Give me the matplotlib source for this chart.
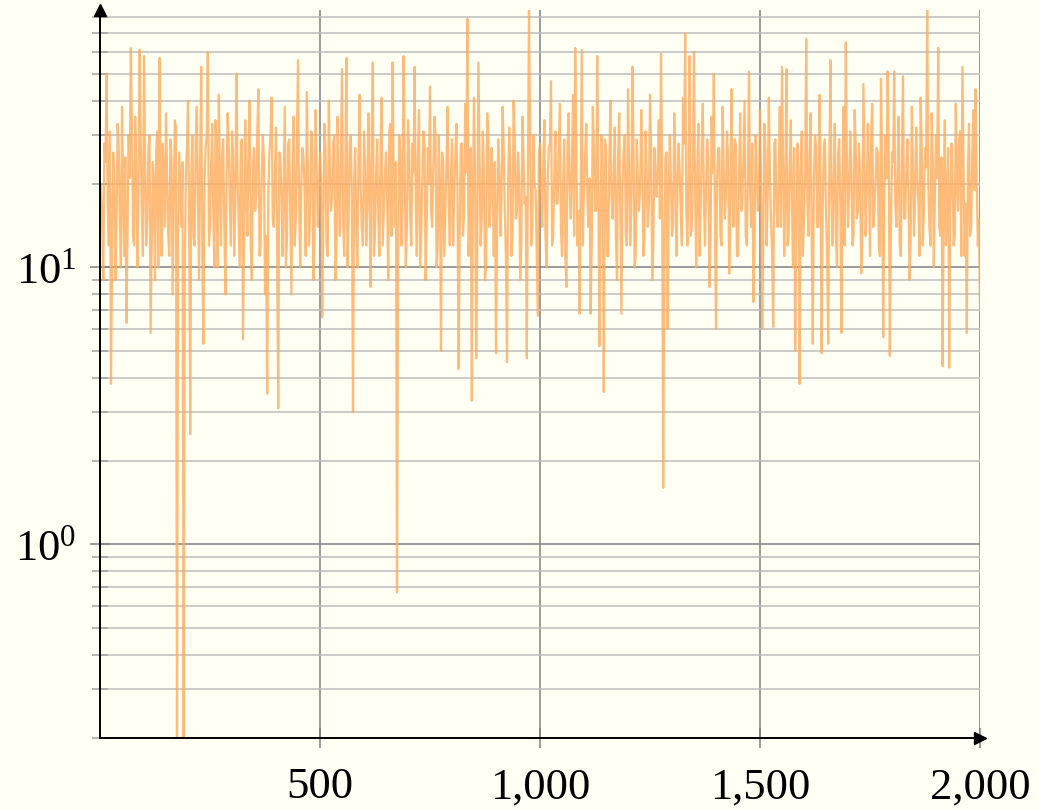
import numpy as np
import matplotlib.pyplot as plt
from matplotlib.ticker import FixedLocator, LogLocator, NullFormatter, FuncFormatter

# values, one every 5 steps (x = 5 .. 2000)
values = [
    14, 28, 50, 12, 3.8, 26, 9, 33, 15, 38, 11, 6.3, 30, 62, 13, 35, 10, 61, 16, 58,
    12, 27, 5.8, 24, 9, 31, 57, 11, 22, 36, 13, 29, 8, 34, 0.2, 26, 14, 0.2, 21, 40,
    2.5, 30, 12, 38, 9, 53, 5.3, 27, 60, 14, 33, 10, 25, 42, 12, 29, 8, 36, 17, 31,
    11, 50, 15, 28, 5.5, 34, 13, 40, 9, 27, 18, 44, 12, 30, 8, 3.5, 26, 41, 14, 32,
    3.1, 25, 11, 38, 13, 29, 8, 35, 15, 56, 10, 27, 19, 43, 12, 31, 9, 37, 14, 26,
    6.6, 33, 12, 40, 16, 28, 9, 35, 13, 52, 11, 57, 15, 30, 3.0, 27, 10, 42, 14, 31,
    12, 36, 8.5, 55, 13, 29, 11, 41, 16, 26, 9, 33, 55, 14, 0.67, 30, 12, 58, 10, 34,
    15, 28, 53, 11, 37, 13, 31, 9, 27, 45, 14, 35, 10, 30, 5.0, 24, 16, 38, 12, 29,
    18, 33, 4.3, 28, 13, 39, 79, 15, 3.3, 41, 4.7, 55, 12, 31, 9, 36, 14, 27, 11, 4.9,
    29, 13, 38, 16, 4.55, 32, 11, 40, 15, 26, 9, 35, 17, 4.7, 85, 12, 30, 19, 6.7, 28,
    14, 34, 10, 27, 47, 13, 31, 17, 39, 11, 29, 8.5, 36, 15, 42, 62, 12, 6.8, 61, 20,
    33, 14, 6.8, 38, 16, 58, 5.2, 30, 3.55, 27, 11, 40, 15, 32, 9, 36, 6.8, 26, 13, 44,
    12, 53, 10, 29, 16, 37, 11, 31, 14, 42, 9, 27, 18, 34, 59, 1.6, 25, 6.0, 30, 13,
    36, 11, 28, 15, 41, 70, 12, 58, 14, 60, 10, 33, 16, 39, 12, 29, 8.5, 35, 50, 6.0,
    27, 13, 38, 15, 31, 9.5, 44, 14, 28, 11, 36, 17, 40, 12, 51, 14, 7.5, 30, 16, 37,
    6.0, 33, 12, 41, 15, 6.1, 29, 14, 38, 53, 11, 52, 13, 34, 10, 5.0, 28, 3.8, 31, 15,
    67, 13, 36, 5.3, 30, 14, 42, 4.9, 27, 16, 5.3, 56, 12, 33, 10, 29, 5.8, 38, 65, 14,
    31, 12, 37, 15, 28, 9.5, 46, 13, 33, 11, 39, 16, 27, 12, 48, 5.6, 30, 51, 4.8, 26,
    51, 14, 35, 11, 49, 15, 29, 9, 38, 13, 32, 17, 41, 12, 27, 85, 14, 36, 10, 30,
    62, 13, 4.4, 34, 15, 4.35, 28, 12, 39, 16, 31, 53, 11, 5.8, 33, 14, 37, 44, 12, 7,
]
# in-between values (x = 2.5 .. 1997.5), the dense middle of the band
values_mid = [
    20, 9, 24, 17, 31, 11, 22, 14, 27, 10, 19, 25, 13, 21, 33, 12, 24, 18, 29, 11,
    23, 15, 30, 12, 20, 26, 10, 18, 28, 14, 22, 11, 25, 17, 32, 13, 19, 24, 9, 27,
    16, 21, 13, 28, 18, 24, 11, 20, 30, 12, 23, 15, 34, 10, 21, 26, 14, 19, 28, 12,
    25, 17, 22, 10, 29, 14, 20, 27, 12, 23, 16, 31, 11, 21, 25, 13, 18, 30, 15, 22,
    12, 26, 18, 21, 10, 28, 15, 23, 12, 30, 17, 20, 25, 11, 22, 16, 29, 13, 24, 18,
    21, 14, 27, 11, 23, 18, 30, 12, 20, 26, 15, 22, 10, 28, 17, 21, 13, 25, 19, 12,
    24, 16, 20, 29, 11, 22, 15, 27, 12, 21, 18, 31, 13, 20, 24, 10, 26, 17, 22, 14,
    27, 12, 22, 18, 25, 10, 21, 28, 14, 20, 16, 23, 30, 12, 19, 26, 11, 24, 17, 21,
    12, 25, 19, 13, 28, 16, 22, 11, 27, 18, 21, 13, 26, 15, 23, 10, 29, 17, 20, 24,
    14, 22, 18, 27, 11, 20, 24, 13, 29, 16, 21, 12, 25, 18, 22, 30, 14, 20, 11, 26,
    19, 24, 13, 21, 28, 12, 22, 17, 26, 14, 20, 11, 27, 19, 23, 13, 29, 16, 21, 12,
    25, 18, 21, 12, 27, 16, 22, 14, 20, 29, 11, 24, 18, 21, 13, 26, 15, 20, 30, 12,
    23, 16, 28, 11, 21, 19, 25, 13, 22, 17, 27, 12, 20, 24, 15, 22, 11, 26, 18, 21,
    14, 25, 19, 22, 12, 28, 16, 21, 13, 26, 18, 23, 11, 27, 17, 20, 24, 12, 22, 15,
    21, 27, 12, 23, 18, 25, 14, 20, 29, 11, 22, 16, 26, 13, 21, 19, 28, 12, 24, 17,
    20, 13, 26, 18, 22, 11, 28, 16, 21, 14, 25, 19, 12, 23, 17, 27, 13, 20, 24, 11,
    22, 18, 25, 12, 21, 27, 14, 20, 16, 29, 11, 23, 18, 21, 13, 26, 17, 22, 12, 25,
    19, 23, 13, 28, 16, 21, 12, 25, 18, 22, 30, 14, 20, 26, 11, 23, 17, 21, 28, 13,
    24, 17, 21, 12, 27, 15, 22, 19, 13, 25, 18, 21, 11, 28, 16, 23, 20, 12, 26, 18,
    21, 14, 25, 18, 12, 27, 16, 22, 13, 20, 29, 11, 24, 17, 22, 13, 26, 19, 21, 15,
]
steps = np.arange(5, 2001, 5)
steps_mid = steps - 2.5

x_ticks = [500, 1000, 1500, 2000]

# merge both lists into one series ordered by x
x_all = np.empty(steps.size * 2)
y_all = np.empty(steps.size * 2)
x_all[0::2], x_all[1::2] = steps_mid, steps
y_all[0::2], y_all[1::2] = values_mid, values

bg = '#FFFFF4'
plt.rcParams['font.family'] = 'serif'
plt.rcParams['font.serif'] = ['Liberation Serif', 'DejaVu Serif']
plt.rcParams['mathtext.fontset'] = 'stix'

fig = plt.figure(figsize=(10.39, 8.10), dpi=100, facecolor=bg)
ax = fig.add_axes([100 / 1039, 72 / 810, 880 / 1039, 728 / 810])
ax.set_facecolor(bg)

ax.plot(x_all, y_all, color='#FFAA5C', alpha=0.8, lw=1.6, zorder=2)

ax.set_yscale('log')
ax.set_xlim(0, 2000)
ax.set_ylim(0.2, 85)

ax.xaxis.set_major_locator(FixedLocator(x_ticks))
ax.xaxis.set_major_formatter(FuncFormatter(lambda v, p: f'{v:,.0f}'))
ax.yaxis.set_major_locator(LogLocator(base=10))
ax.yaxis.set_minor_locator(LogLocator(base=10, subs=np.arange(2, 10)))
ax.yaxis.set_minor_formatter(NullFormatter())

ax.grid(True, which='major', color='#808080', lw=1.1, zorder=0)
ax.grid(True, which='minor', axis='y', color='#BDBDBD', lw=1.1, zorder=0)
ax.set_axisbelow(True)

ax.tick_params(axis='both', which='major', labelsize=32, direction='inout',
               length=14, width=1.1, color='#808080', pad=10)
ax.tick_params(axis='y', which='minor', direction='inout', length=12,
               width=1.1, color='#A0A0A0')
ax.tick_params(axis='x', pad=14)

for s in ['top', 'right']:
    ax.spines[s].set_visible(False)
for s in ['left', 'bottom']:
    ax.spines[s].set_color('black')
    ax.spines[s].set_linewidth(1.4)
    ax.spines[s].set_zorder(3)

# arrow heads on the axes
ax.plot(1, 0, marker='>', color='black', ms=9, transform=ax.transAxes, clip_on=False, zorder=4)
ax.plot(0, 1, marker='^', color='black', ms=9, transform=ax.transAxes, clip_on=False, zorder=4)

fig.savefig('out.png', dpi=100, facecolor=bg)
